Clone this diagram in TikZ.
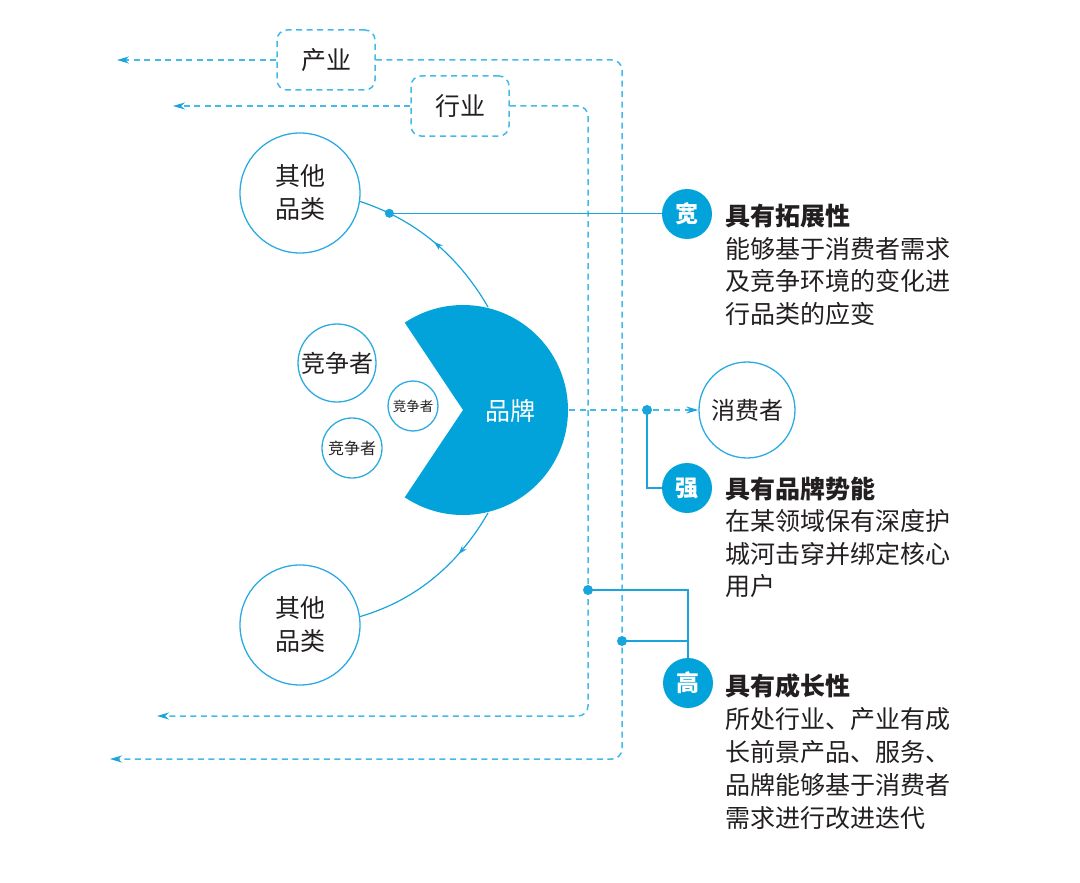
\documentclass[tikz,border=0pt]{standalone}
\usepackage{fontspec}
\setmainfont{Noto Sans CJK SC}
\usetikzlibrary{arrows.meta,decorations.markings}
\definecolor{brandc}{HTML}{02A3DA}
\definecolor{ringc}{HTML}{2BABE2}
\definecolor{dashblue}{HTML}{43BAE8}
\definecolor{solidb}{HTML}{1AA4DC}
\definecolor{ink}{HTML}{231F20}
\begin{document}
\begin{tikzpicture}[x=1pt,y=-1pt,
  ring/.style={circle,draw=ringc,line width=1.3pt,inner sep=0pt,text=ink,align=center},
  badge/.style={circle,fill=brandc,minimum size=50pt,inner sep=0pt,text=white,font=\fontsize{23}{23}\selectfont\bfseries},
  dline/.style={draw=dashblue,line width=1.5pt,dash pattern=on 6pt off 4.5pt},
  tipa/.style={-{Stealth[length=12pt,width=7pt,color=solidb]}},
  sline/.style={draw=solidb,line width=1.3pt},
  desc/.style={anchor=west,inner sep=0pt,align=left,text=ink,font=\fontsize{25}{32.5}\selectfont},
  dbox/.style={draw=dashblue,line width=1.5pt,dash pattern=on 6pt off 4.5pt,rounded corners=10pt,minimum width=98pt,minimum height=60pt,inner sep=0pt,font=\fontsize{25}{25}\selectfont,text=ink},
  midarrow/.style={postaction={decorate},decoration={markings,mark=at position #1 with {\arrow{Stealth[length=9pt,width=6pt]}}}}
]
\useasboundingbox (0,0) rectangle (1080,883);

% boxes
\node[dbox] (cy) at (326,60) {产业};
\node[dbox] (hy) at (460,106) {行业};

% other nodes
\node[ring,minimum size=120pt,font=\fontsize{25}{33}\selectfont] (c1) at (300,193) {其他\\品类};
\node[ring,minimum size=120pt,font=\fontsize{25}{33}\selectfont] (c2) at (300,625) {其他\\品类};
\node[ring,minimum size=78pt,font=\fontsize{24}{24}\selectfont] (j1) at (337,363) {竞争者};
\node[ring,minimum size=60pt,font=\fontsize{16}{16}\selectfont] (j2) at (352,448) {竞争者};
\node[ring,minimum size=50pt,font=\fontsize{13.5}{13.5}\selectfont] (j3) at (413,406) {竞争者};
\node[ring,minimum size=96pt,font=\fontsize{24}{24}\selectfont] (xfz) at (747,410) {消费者};

% pacman
\fill[brandc] (463,410) -- ++(123.7:105) arc[start angle=123.7,end angle=-123.7,radius=105] -- cycle;
\node[text=white,font=\fontsize{25}{25}\selectfont] (brand) at (510,411) {品牌};
\coordinate (brandE) at (569,410);
\coordinate (aT) at (488,307);
\coordinate (aB) at (488,513);

% free ends
\coordinate (cyL) at (117,60);
\coordinate (cyR) at (622,759);
\coordinate (cyE) at (110,759);
\coordinate (hyL) at (173,106);
\coordinate (hyR) at (588,716);
\coordinate (hyE) at (157,716);
\coordinate (dA) at (588,590);
\coordinate (dB) at (622,641);
\coordinate (dQ) at (647,410);

% dashed connectors
\draw[dline,tipa] (cy.west) -- (cyL);
\draw[dline,tipa,rounded corners=10pt] (cy.east) -| (cyR) -- (cyE);
\draw[dline,tipa] (hy.west) -- (hyL);
\draw[dline,tipa,rounded corners=10pt] (hy.east) -| (hyR) -- (hyE);
\draw[dline,tipa] (brandE) -- (xfz.west);

% badges
\node[badge] (kuan) at (687,214) {宽};
\node[badge] (qiang) at (687,488) {强};
\node[badge] (gao) at (688,683) {高};

% arcs
\draw[sline,line width=1.2pt,midarrow=0.5] (aT) .. controls (455,250) and (410,218) .. (c1.-8.5) coordinate[pos=0.8] (dK);
\draw[sline,line width=1.2pt,midarrow=0.3] (aB) .. controls (455,570) and (410,602) .. (c2.8.5);

% solid connectors
\draw[sline] (dK) -- (dK -| kuan.west);
\draw[sline] (dQ) |- (qiang.west);
\draw[sline] (dA) -| (gao.north);
\draw[sline] (dB) -- (dB -| gao.north);

% dots
\fill[solidb] (dK) circle[radius=4.5];
\fill[solidb] (dQ) circle[radius=5];
\fill[solidb] (dA) circle[radius=5];
\fill[solidb] (dB) circle[radius=5];

% descriptions
\node[desc] (tk) at (725,265) {{\bfseries 具有拓展性}\\能够基于消费者需求\\及竞争环境的变化进\\行品类的应变};
\node[desc] (tq) at (725,537.5) {{\bfseries 具有品牌势能}\\在某领域保有深度护\\城河击穿并绑定核心\\用户};
\node[desc,font=\fontsize{25}{33}\selectfont] (tg) at (725,751.5) {{\bfseries 具有成长性}\\所处行业、产业有成\\长前景产品、服务、\\品牌能够基于消费者\\需求进行改进迭代};
\end{tikzpicture}
\end{document}
